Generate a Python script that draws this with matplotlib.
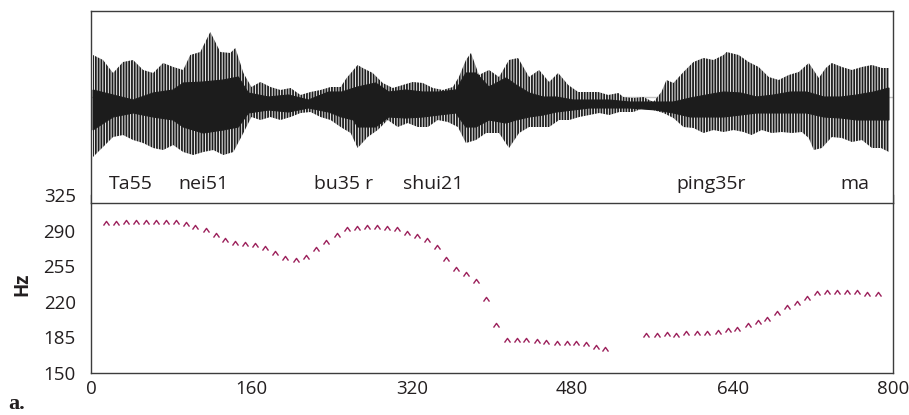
import numpy as np
import matplotlib
matplotlib.use("Agg")
import matplotlib.pyplot as plt
from matplotlib.path import Path

# ---------------- data ----------------
# pitch track (time units, Hz)
pitch_time = [15, 25, 35, 45, 55, 65, 75, 85, 95, 104, 115, 125, 134, 144, 154, 164, 174, 184,
              194, 204, 214, 224, 234, 245, 255, 265, 275, 285, 295, 305, 315, 325, 335, 345,
              354, 364, 374, 384, 394, 404, 415, 425, 434, 445, 454, 465, 475, 484, 494, 504,
              513,
              554, 565, 575, 584, 594, 604, 614, 625, 635, 644, 655, 665, 674, 684, 694, 704,
              714, 724, 734, 744, 754, 764, 774, 785]
pitch_hz = [297.7, 297.0, 298.7, 298.7, 298.4, 298.4, 298.7, 298.7, 296.7, 293.1, 290.5, 285.6,
            280.8, 277.8, 276.8, 275.9, 273.2, 267.7, 262.8, 261.5, 264.4, 271.6, 278.4, 285.3,
            291.1, 292.8, 293.1, 293.1, 292.5, 291.5, 287.6, 284.3, 281.1, 274.2, 262.2, 252.4,
            247.1, 240.0, 223.1, 197.2, 182.0, 182.0, 182.6, 181.3, 180.3, 179.3, 179.1, 179.3,
            178.2, 175.7, 173.2,
            186.9, 187.7, 188.6, 187.4, 189.3, 189.3, 189.4, 190.6, 191.8, 193.5, 196.7, 199.7,
            202.6, 208.7, 214.8, 219.1, 224.0, 228.7, 229.4, 229.4, 229.4, 229.5, 228.0, 227.3]

# waveform envelopes (time units, relative amplitude)
outer_up_t = [2, 12, 22, 32, 42, 52, 62, 72, 82, 92, 99, 109, 114, 119, 129, 139, 144, 152, 160,
              169, 179, 189, 199, 209, 219, 229, 239, 249, 255, 266, 271, 281, 291, 301, 311,
              321, 331, 341, 351, 361, 367, 374, 379, 387, 397, 407, 417, 426, 437, 447, 457,
              466, 476, 486, 496, 506, 516, 526, 531, 541, 551, 561, 569, 574, 581, 591, 601,
              611, 621, 631, 634, 646, 656, 666, 676, 686, 696, 706, 716, 726, 733, 739, 749,
              759, 769, 779, 789, 796]
outer_up_a = [42, 37, 24, 35, 37, 27, 24, 34, 30, 27, 42, 45, 55, 65, 45, 44, 49, 24, 10, 15, 10,
              7, 9, 2, 5, 7, 10, 10, 19, 32, 29, 24, 14, 9, 12, 15, 14, 9, 7, 10, 20, 37, 44, 22,
              27, 20, 37, 39, 20, 27, 15, 24, 12, 5, 5, 5, 2, 4, 0, -1, 0, -5, 5, 17, 14, 25, 35,
              39, 37, 42, 45, 42, 35, 30, 20, 17, 22, 25, 34, 19, 29, 34, 30, 27, 30, 32, 29, 29]
outer_lo_t = [2, 12, 22, 32, 42, 52, 62, 72, 82, 92, 102, 112, 122, 132, 142, 152, 160, 169, 179,
              189, 199, 209, 219, 229, 239, 249, 259, 266, 276, 286, 296, 306, 316, 326, 336,
              346, 356, 366, 374, 384, 394, 407, 417, 427, 437, 447, 457, 467, 477, 487, 497,
              507, 517, 527, 541, 551, 561, 571, 581, 591, 601, 611, 621, 631, 641, 651, 659,
              669, 679, 689, 699, 709, 716, 721, 729, 739, 749, 759, 769, 779, 788, 796]
outer_lo_a = [-60, -50, -40, -38, -43, -46, -51, -53, -48, -55, -58, -55, -53, -58, -55, -36, -20,
              -23, -20, -23, -20, -16, -15, -20, -23, -30, -36, -51, -40, -33, -23, -30, -26, -30,
              -30, -23, -25, -30, -46, -43, -36, -36, -51, -36, -30, -30, -30, -23, -23, -20, -18,
              -16, -18, -15, -15, -11, -13, -16, -21, -30, -31, -36, -33, -35, -33, -35, -38, -33,
              -36, -35, -36, -35, -41, -53, -51, -40, -41, -45, -43, -51, -51, -55]
core_up_t = [2, 22, 42, 62, 82, 92, 112, 132, 147, 157, 177, 197, 217, 237, 250, 266, 284, 297,
             314, 331, 347, 364, 374, 384, 397, 414, 424, 437, 451, 464, 481, 497, 517, 537, 564,
             581, 598, 614, 631, 648, 664, 681, 698, 714, 731, 748, 764, 781, 796]
core_up_a = [7, 2, -3, 4, 7, 14, 15, 17, 20, 4, 0, 2, -3, 5, 5, 10, 14, 5, 7, 5, 5, 7, 24, 24, 10,
             19, 12, 4, 0, 0, -3, -3, -3, -5, -5, -5, -1, 2, 5, 4, 0, 2, 5, 5, 0, 0, 2, 5, 9]
core_lo_t = [2, 22, 42, 62, 82, 92, 112, 132, 147, 157, 177, 197, 217, 237, 250, 262, 266, 284,
             297, 314, 331, 347, 364, 374, 384, 397, 414, 424, 437, 451, 464, 481, 497, 517, 537,
             564, 581, 598, 614, 631, 648, 664, 681, 698, 714, 731, 748, 764, 781, 796]
core_lo_a = [-33, -20, -16, -20, -23, -30, -36, -33, -30, -16, -13, -15, -11, -15, -20, -23, -30,
             -30, -20, -21, -20, -18, -16, -30, -30, -23, -26, -23, -20, -18, -15, -13, -11, -11,
             -11, -13, -16, -20, -20, -20, -18, -16, -16, -16, -16, -20, -21, -23, -23, -23]

syllables = ["Ta55", "nei51", "bu35 r", "shui21", "ping35r", "ma"]
syllable_t = [40, 112, 252, 341, 619, 762]

x_ticks = [0, 160, 320, 480, 640, 800]
y_ticks = [150, 185, 220, 255, 290, 325]

# ---------------- style ----------------
plt.rcParams['font.family'] = ['Open Sans', 'DejaVu Sans']
plt.rcParams['hatch.linewidth'] = 1.3
plt.rcParams['hatch.color'] = '#1e1e1e'
TXT = '#231f20'
SPINE = '#3c3c3c'
PITCH = '#9b1f5a'

W, H = 909, 415
fig = plt.figure(figsize=(W / 100, H / 100), dpi=100)

def rect(x0, y0, x1, y1):
    return [x0 / W, 1 - y1 / H, (x1 - x0) / W, (y1 - y0) / H]

# lower (pitch) axes
ax = fig.add_axes(rect(91, 195, 893, 373))
caret = Path([(-1, -0.7), (0, 0.7), (1, -0.7)], [Path.MOVETO, Path.LINETO, Path.LINETO])
ax.plot(pitch_time, pitch_hz, linestyle='none', marker=caret, markersize=4.3,
        markeredgewidth=1.0, markeredgecolor=PITCH, markerfacecolor='none')
ax.set_xlim(0, 800)
ax.set_ylim(150, 325)
ax.set_xticks(x_ticks)
ax.set_yticks(y_ticks)
ax.tick_params(length=0, labelsize=13.5, colors=TXT)
ax.tick_params(axis='y', pad=11)
ax.tick_params(axis='x', pad=5)
ax.spines['top'].set_visible(False)
for s in ['left', 'right', 'bottom']:
    ax.spines[s].set_color(SPINE)
    ax.spines[s].set_linewidth(1.0)
ax.set_ylabel('Hz', fontsize=13.5, fontweight='bold', color=TXT)
ax.yaxis.set_label_coords(-0.073, 0.5)

# upper (waveform) axes
wa = fig.add_axes(rect(91, 11, 893, 203))
wa.set_facecolor('white')
wa.set_xlim(0, 800)
wa.set_ylim(-106, 86)
wa.axhline(0, color='#c4c4c4', lw=1.0, zorder=0.5)
ox = list(outer_up_t) + list(outer_lo_t)[::-1]
oy = list(outer_up_a) + list(outer_lo_a)[::-1]
wa.fill(ox, oy, facecolor='#f2f2f2', edgecolor='#1e1e1e', hatch='||||||', linewidth=0, zorder=1)
cx = list(core_up_t) + list(core_lo_t)[::-1]
cy = list(core_up_a) + list(core_lo_a)[::-1]
wa.fill(cx, cy, facecolor='#1c1c1c', edgecolor='#1c1c1c', linewidth=0.8, zorder=2)
for name, t in zip(syllables, syllable_t):
    wa.text(t, 0.099, name, transform=wa.get_xaxis_transform(), ha='center', va='center',
            fontsize=14, color=TXT)
wa.set_xticks([])
wa.set_yticks([])
for s in wa.spines.values():
    s.set_color(SPINE)
    s.set_linewidth(1.0)

fig.text(17 / W, 1 - 409 / H, 'a.', fontsize=16, fontweight='bold', color=TXT,
         family=['Liberation Serif', 'DejaVu Serif'], ha='center', va='baseline')

fig.savefig('out.png', dpi=100)
